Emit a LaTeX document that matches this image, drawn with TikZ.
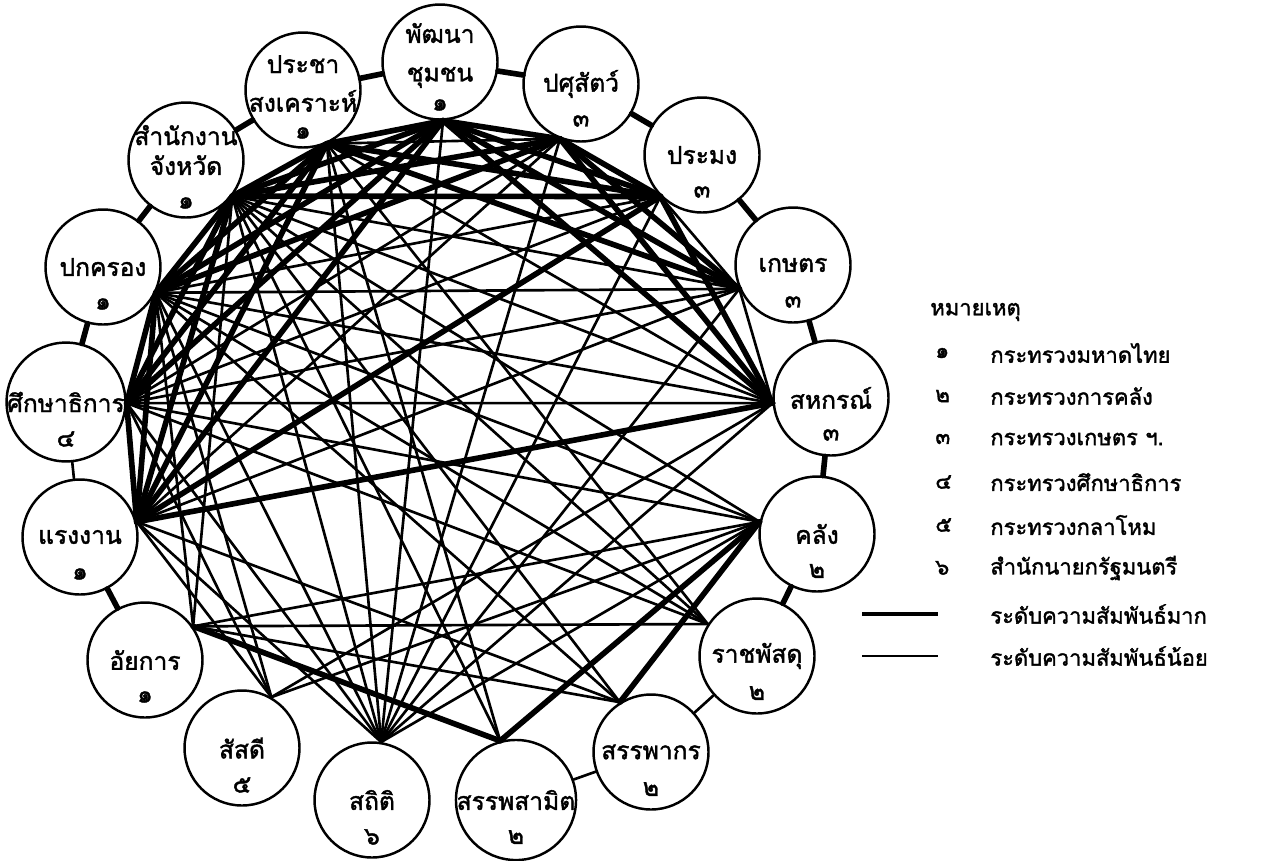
\documentclass[tikz,border=0pt]{standalone}
\usepackage{fontspec}
\newfontfamily\thaifont[Script=Thai, FakeBold=1.6]{Loma}
\tikzset{
  unit/.style={circle, draw, line width=1.4pt, minimum size=2.3cm, inner sep=0pt,
    align=center, font=\thaifont\fontsize{14}{20}\selectfont},
  num/.style={label={[yshift=-0.74cm]center:#1}},
  numlow/.style={label={[yshift=-0.86cm]center:#1}},
  twolines/.style={label={[align=center, yshift=0.13cm,
    font=\thaifont\fontsize{14}{22}\selectfont]center:#1}},
  every label/.style={inner sep=0pt, font=\thaifont\fontsize{14}{17}\selectfont},
  strong/.style={line width=3.2pt, line cap=round},
  weak/.style={line width=1.5pt, line cap=round},
  note/.style={anchor=west, inner sep=0pt, font=\thaifont\fontsize{12.5}{14}\selectfont},
}
\begin{document}
\begin{tikzpicture}[x=0.02cm, y=-0.02cm]
  \useasboundingbox (0,0) rectangle (1277,860);
  % Units
  \node[unit, numlow=๑, twolines={พัฒนา\\ชุมชน}] (PT) at (440,62) {};
  \node[unit, num=๓] (PS) at (581,84) {ปศุสัตว์};
  \node[unit, num=๓] (PM) at (702,155) {ประมง};
  \node[unit, num=๓] (KS) at (793,265) {เกษตร};
  \node[unit, num=๓] (SH) at (831,398) {สหกรณ์};
  \node[unit, num=๒] (KL) at (817,534) {คลัง};
  \node[unit, num=๒] (RP) at (757,656) {ราชพัสดุ};
  \node[unit, num=๒] (SP) at (651,752) {สรรพากร};
  \node[unit, num=๒] (SS) at (516,800) {สรรพสามิต};
  \node[unit, num=๖] (ST) at (372,800) {สถิติ};
  \node[unit, num=๕] (SD) at (242,748) {สัสดี};
  \node[unit, num=๑] (AY) at (145,660) {อัยการ};
  \node[unit, num=๑] (RG) at (80,537) {แรงงาน};
  \node[unit, num=๔] (SK) at (66,402) {ศึกษาธิการ};
  \node[unit, num=๑] (PK) at (103,267) {ปกครอง};
  \node[unit, numlow=๑, label={[align=center, yshift=0.2cm]center:{สำนักงาน\\จังหวัด}}] (SJ) at (186,160) {};
  \node[unit, numlow=๑, twolines={ประชา\\สงเคราะห์}] (PC) at (303,90) {};
  % Points where the relations meet each circle
  \coordinate (pt) at (PT.-87);
  \coordinate (ps) at (PS.-111);
  \coordinate (pm) at (PM.-135);
  \coordinate (ks) at (KS.-156);
  \coordinate (sh) at (SH.185);
  \coordinate (kl) at (KL.168);
  \coordinate (rp) at (RP.147);
  \coordinate (sp) at (SP.122);
  \coordinate (ss) at (SS.105);
  \coordinate (st) at (ST.81);
  \coordinate (sd) at (SD.60);
  \coordinate (ay) at (AY.35);
  \coordinate (rg) at (RG.15);
  \coordinate (sk) at (SK.-1);
  \coordinate (pk) at (PK.-26);
  \coordinate (sj) at (SJ.-38);
  \coordinate (pc) at (PC.-66);
  % Ring
  \foreach \a/\b in {PC/PT, PT/PS, PS/PM, PM/KS, KS/SH, SH/KL, KL/RP,
                     SJ/PC, PK/SJ, SK/PK, AY/RG}
    \draw[strong] (\a) -- (\b);
  \foreach \a/\b in {RP/SP, SP/SS, SK/RG}
    \draw[weak] (\a) -- (\b);
  % Strong relations
  \foreach \a/\b in {pc/sj, pc/pk, pc/sk, pc/rg, pc/pt, pc/pm, pc/ks,
                     sj/pk, sj/sk, sj/rg, sj/pt, sj/ps, sj/pm,
                     pk/sk, pk/rg, pk/pt, pk/ps, sk/rg, sk/pt,
                     pt/ps, pt/pm, pt/ks, pt/sh, ps/ks, ps/sh, pm/sh, ps/pm,
                     rg/pm, rg/sh, rg/pt, kl/ss, kl/sp, ay/ss}
    \draw[strong] (\a) -- (\b);
  % Weak relations
  \foreach \a/\b in {pc/ps, pc/sh, pc/st, pc/ss, pc/rp,
                     sj/ks, sj/sh, sj/kl, sj/st, sj/ss, sj/sp, sj/rp,
                     pk/pm, pk/ks, pk/sh, pk/kl, pk/st, pk/sd, pk/rp, pk/sp,
                     sk/ps, sk/pm, sk/ks, sk/sh, sk/kl, sk/st, sk/rp, sk/sd,
                     rg/ps, rg/ks, rg/st, rg/sd, rg/sp,
                     pt/st, ps/st, pm/st, ks/st, sh/st, kl/st, pm/ks, ks/sh,
                     sh/sd, kl/sd, kl/ay, ay/rp, ay/sp, ay/pk, ay/sj}
    \draw[weak] (\a) -- (\b);
  % Legend
  \node[note] (title) at (930,312) {หมายเหตุ};
  \foreach \n/\t [count=\i] in {๑/กระทรวงมหาดไทย, ๒/กระทรวงการคลัง, ๓/กระทรวงเกษตร ฯ.,
                                ๔/กระทรวงศึกษาธิการ, ๕/กระทรวงกลาโหม, ๖/สำนักนายกรัฐมนตรี}
  {
    \node[note] (num\i) at (935,310+43*\i) {\n};
    \node[note] (txt\i) at (990,310+43*\i) {\t};
  }
  \coordinate (hi) at (862,614);
  \coordinate (lo) at (862,656);
  \node[note] (hitxt) at (990,614) {ระดับความสัมพันธ์มาก};
  \node[note] (lotxt) at (990,656) {ระดับความสัมพันธ์น้อย};
  \draw[line width=2.8pt] (hi) -- ++(76,0);
  \draw[line width=1.3pt] (lo) -- ++(76,0);
\end{tikzpicture}
\end{document}
